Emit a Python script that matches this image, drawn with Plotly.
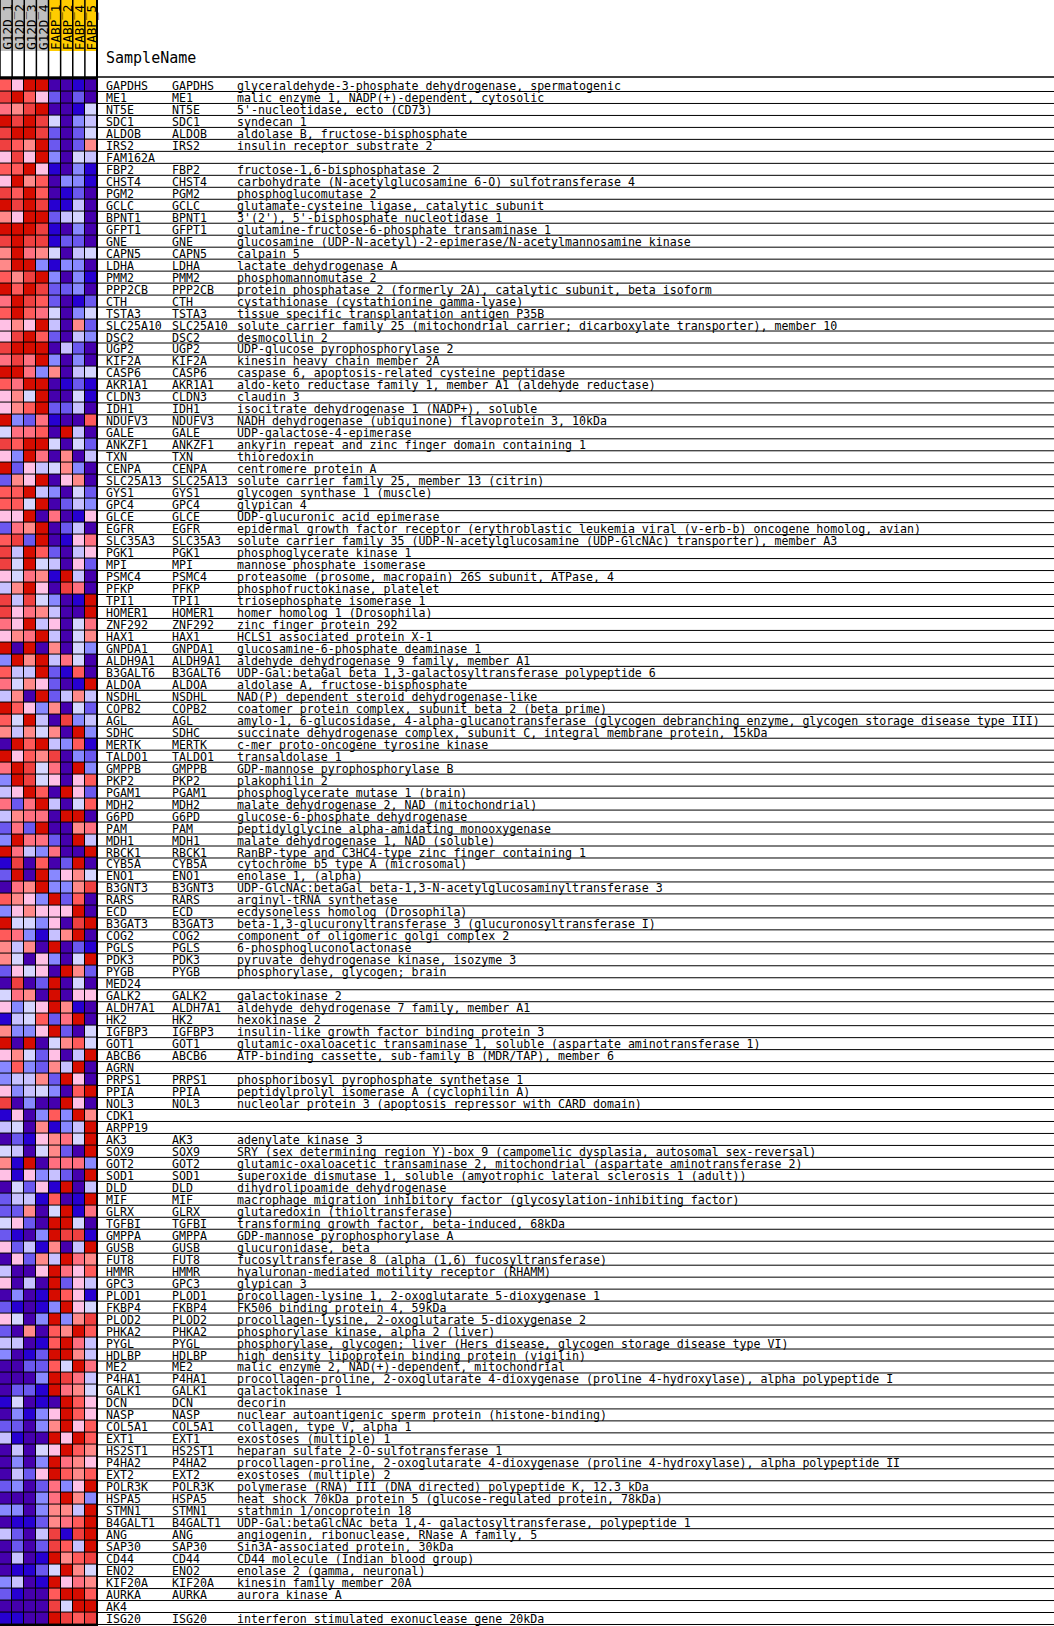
import plotly.graph_objects as go

W, H = 1054, 1626
HEAD = 77          # header height in px
SAMPLE_BOX = 51    # coloured sample-label boxes height in px

samples = ["G12D_1", "G12D_2", "G12D_3", "G12D_4", "FABP_1", "FABP_2", "FABP_4", "FABP_5"]
sample_colors = ["#C0C0C0"] * 4 + ["#FFCC00"] * 4

# GSEA/Broad 12-step colour scheme (low -> high)
palette = ["#4500AD", "#2700D1", "#6B58EF", "#8888FF", "#C7C1FF", "#D5D5FF",
           "#FFC0E5", "#FF8989", "#FF7080", "#FF5A5A", "#EF4040", "#D60C00"]

genes = ["GAPDHS", "ME1", "NT5E", "SDC1", "ALDOB", "IRS2", "FAM162A", "FBP2", "CHST4", "PGM2",
         "GCLC", "BPNT1", "GFPT1", "GNE", "CAPN5", "LDHA", "PMM2", "PPP2CB", "CTH", "TSTA3",
         "SLC25A10", "DSC2", "UGP2", "KIF2A", "CASP6", "AKR1A1", "CLDN3", "IDH1", "NDUFV3", "GALE",
         "ANKZF1", "TXN", "CENPA", "SLC25A13", "GYS1", "GPC4", "GLCE", "EGFR", "SLC35A3", "PGK1",
         "MPI", "PSMC4", "PFKP", "TPI1", "HOMER1", "ZNF292", "HAX1", "GNPDA1", "ALDH9A1", "B3GALT6",
         "ALDOA", "NSDHL", "COPB2", "AGL", "SDHC", "MERTK", "TALDO1", "GMPPB", "PKP2", "PGAM1",
         "MDH2", "G6PD", "PAM", "MDH1", "RBCK1", "CYB5A", "ENO1", "B3GNT3", "RARS", "ECD",
         "B3GAT3", "COG2", "PGLS", "PDK3", "PYGB", "MED24", "GALK2", "ALDH7A1", "HK2", "IGFBP3",
         "GOT1", "ABCB6", "AGRN", "PRPS1", "PPIA", "NOL3", "CDK1", "ARPP19", "AK3", "SOX9",
         "GOT2", "SOD1", "DLD", "MIF", "GLRX", "TGFBI", "GMPPA", "GUSB", "FUT8", "HMMR",
         "GPC3", "PLOD1", "FKBP4", "PLOD2", "PHKA2", "PYGL", "HDLBP", "ME2", "P4HA1", "GALK1",
         "DCN", "NASP", "COL5A1", "EXT1", "HS2ST1", "P4HA2", "EXT2", "POLR3K", "HSPA5", "STMN1",
         "B4GALT1", "ANG", "SAP30", "CD44", "ENO2", "KIF20A", "AURKA", "AK4", "ISG20"]

no_desc = {"FAM162A", "MED24", "AGRN", "CDK1", "ARPP19", "AK4"}
gene_ids = ["" if g in no_desc else g for g in genes]

descriptions = [
    "glyceraldehyde-3-phosphate dehydrogenase, spermatogenic",
    "malic enzyme 1, NADP(+)-dependent, cytosolic",
    "5'-nucleotidase, ecto (CD73)",
    "syndecan 1",
    "aldolase B, fructose-bisphosphate",
    "insulin receptor substrate 2",
    "",
    "fructose-1,6-bisphosphatase 2",
    "carbohydrate (N-acetylglucosamine 6-O) sulfotransferase 4",
    "phosphoglucomutase 2",
    "glutamate-cysteine ligase, catalytic subunit",
    "3'(2'), 5'-bisphosphate nucleotidase 1",
    "glutamine-fructose-6-phosphate transaminase 1",
    "glucosamine (UDP-N-acetyl)-2-epimerase/N-acetylmannosamine kinase",
    "calpain 5",
    "lactate dehydrogenase A",
    "phosphomannomutase 2",
    "protein phosphatase 2 (formerly 2A), catalytic subunit, beta isoform",
    "cystathionase (cystathionine gamma-lyase)",
    "tissue specific transplantation antigen P35B",
    "solute carrier family 25 (mitochondrial carrier; dicarboxylate transporter), member 10",
    "desmocollin 2",
    "UDP-glucose pyrophosphorylase 2",
    "kinesin heavy chain member 2A",
    "caspase 6, apoptosis-related cysteine peptidase",
    "aldo-keto reductase family 1, member A1 (aldehyde reductase)",
    "claudin 3",
    "isocitrate dehydrogenase 1 (NADP+), soluble",
    "NADH dehydrogenase (ubiquinone) flavoprotein 3, 10kDa",
    "UDP-galactose-4-epimerase",
    "ankyrin repeat and zinc finger domain containing 1",
    "thioredoxin",
    "centromere protein A",
    "solute carrier family 25, member 13 (citrin)",
    "glycogen synthase 1 (muscle)",
    "glypican 4",
    "UDP-glucuronic acid epimerase",
    "epidermal growth factor receptor (erythroblastic leukemia viral (v-erb-b) oncogene homolog, avian)",
    "solute carrier family 35 (UDP-N-acetylglucosamine (UDP-GlcNAc) transporter), member A3",
    "phosphoglycerate kinase 1",
    "mannose phosphate isomerase",
    "proteasome (prosome, macropain) 26S subunit, ATPase, 4",
    "phosphofructokinase, platelet",
    "triosephosphate isomerase 1",
    "homer homolog 1 (Drosophila)",
    "zinc finger protein 292",
    "HCLS1 associated protein X-1",
    "glucosamine-6-phosphate deaminase 1",
    "aldehyde dehydrogenase 9 family, member A1",
    "UDP-Gal:betaGal beta 1,3-galactosyltransferase polypeptide 6",
    "aldolase A, fructose-bisphosphate",
    "NAD(P) dependent steroid dehydrogenase-like",
    "coatomer protein complex, subunit beta 2 (beta prime)",
    "amylo-1, 6-glucosidase, 4-alpha-glucanotransferase (glycogen debranching enzyme, glycogen storage disease type III)",
    "succinate dehydrogenase complex, subunit C, integral membrane protein, 15kDa",
    "c-mer proto-oncogene tyrosine kinase",
    "transaldolase 1",
    "GDP-mannose pyrophosphorylase B",
    "plakophilin 2",
    "phosphoglycerate mutase 1 (brain)",
    "malate dehydrogenase 2, NAD (mitochondrial)",
    "glucose-6-phosphate dehydrogenase",
    "peptidylglycine alpha-amidating monooxygenase",
    "malate dehydrogenase 1, NAD (soluble)",
    "RanBP-type and C3HC4-type zinc finger containing 1",
    "cytochrome b5 type A (microsomal)",
    "enolase 1, (alpha)",
    "UDP-GlcNAc:betaGal beta-1,3-N-acetylglucosaminyltransferase 3",
    "arginyl-tRNA synthetase",
    "ecdysoneless homolog (Drosophila)",
    "beta-1,3-glucuronyltransferase 3 (glucuronosyltransferase I)",
    "component of oligomeric golgi complex 2",
    "6-phosphogluconolactonase",
    "pyruvate dehydrogenase kinase, isozyme 3",
    "phosphorylase, glycogen; brain",
    "",
    "galactokinase 2",
    "aldehyde dehydrogenase 7 family, member A1",
    "hexokinase 2",
    "insulin-like growth factor binding protein 3",
    "glutamic-oxaloacetic transaminase 1, soluble (aspartate aminotransferase 1)",
    "ATP-binding cassette, sub-family B (MDR/TAP), member 6",
    "",
    "phosphoribosyl pyrophosphate synthetase 1",
    "peptidylprolyl isomerase A (cyclophilin A)",
    "nucleolar protein 3 (apoptosis repressor with CARD domain)",
    "",
    "",
    "adenylate kinase 3",
    "SRY (sex determining region Y)-box 9 (campomelic dysplasia, autosomal sex-reversal)",
    "glutamic-oxaloacetic transaminase 2, mitochondrial (aspartate aminotransferase 2)",
    "superoxide dismutase 1, soluble (amyotrophic lateral sclerosis 1 (adult))",
    "dihydrolipoamide dehydrogenase",
    "macrophage migration inhibitory factor (glycosylation-inhibiting factor)",
    "glutaredoxin (thioltransferase)",
    "transforming growth factor, beta-induced, 68kDa",
    "GDP-mannose pyrophosphorylase A",
    "glucuronidase, beta",
    "fucosyltransferase 8 (alpha (1,6) fucosyltransferase)",
    "hyaluronan-mediated motility receptor (RHAMM)",
    "glypican 3",
    "procollagen-lysine 1, 2-oxoglutarate 5-dioxygenase 1",
    "FK506 binding protein 4, 59kDa",
    "procollagen-lysine, 2-oxoglutarate 5-dioxygenase 2",
    "phosphorylase kinase, alpha 2 (liver)",
    "phosphorylase, glycogen; liver (Hers disease, glycogen storage disease type VI)",
    "high density lipoprotein binding protein (vigilin)",
    "malic enzyme 2, NAD(+)-dependent, mitochondrial",
    "procollagen-proline, 2-oxoglutarate 4-dioxygenase (proline 4-hydroxylase), alpha polypeptide I",
    "galactokinase 1",
    "decorin",
    "nuclear autoantigenic sperm protein (histone-binding)",
    "collagen, type V, alpha 1",
    "exostoses (multiple) 1",
    "heparan sulfate 2-O-sulfotransferase 1",
    "procollagen-proline, 2-oxoglutarate 4-dioxygenase (proline 4-hydroxylase), alpha polypeptide II",
    "exostoses (multiple) 2",
    "polymerase (RNA) III (DNA directed) polypeptide K, 12.3 kDa",
    "heat shock 70kDa protein 5 (glucose-regulated protein, 78kDa)",
    "stathmin 1/oncoprotein 18",
    "UDP-Gal:betaGlcNAc beta 1,4- galactosyltransferase, polypeptide 1",
    "angiogenin, ribonuclease, RNase A family, 5",
    "Sin3A-associated protein, 30kDa",
    "CD44 molecule (Indian blood group)",
    "enolase 2 (gamma, neuronal)",
    "kinesin family member 20A",
    "aurora kinase A",
    "",
    "interferon stimulated exonuclease gene 20kDa",
]

# expression level per gene (row) and sample (column), 0 = lowest ... 11 = highest
levels = [
    [9, 6, 11, 11, 0, 0, 1, 0], [10, 11, 9, 6, 2, 0, 2, 0], [8, 7, 10, 11, 0, 0, 1, 5],
    [11, 10, 11, 10, 5, 0, 3, 4], [10, 11, 11, 10, 2, 0, 2, 5], [10, 9, 7, 11, 2, 0, 2, 7],
    [6, 10, 6, 11, 3, 0, 5, 4], [9, 9, 11, 6, 1, 0, 3, 1], [6, 11, 7, 9, 0, 3, 3, 1],
    [10, 9, 11, 9, 0, 1, 2, 0], [11, 10, 11, 10, 1, 1, 4, 0], [7, 6, 11, 11, 2, 4, 5, 0],
    [11, 11, 11, 10, 1, 0, 3, 0], [10, 11, 10, 10, 1, 2, 2, 0], [7, 11, 8, 7, 5, 0, 4, 5],
    [7, 11, 11, 3, 1, 3, 3, 0], [9, 7, 10, 11, 3, 0, 3, 1], [11, 9, 11, 10, 2, 2, 3, 0],
    [8, 11, 10, 9, 2, 0, 1, 2], [9, 11, 9, 8, 5, 0, 3, 5], [6, 7, 6, 11, 4, 0, 7, 2],
    [6, 10, 11, 9, 2, 0, 4, 3], [10, 11, 11, 11, 0, 4, 2, 0], [8, 10, 8, 11, 3, 0, 3, 0],
    [11, 11, 8, 3, 7, 0, 4, 5], [9, 8, 11, 11, 0, 1, 2, 1], [6, 7, 5, 11, 0, 0, 5, 1],
    [6, 7, 9, 11, 2, 2, 4, 0], [11, 3, 2, 8, 1, 0, 0, 9], [5, 8, 8, 9, 0, 11, 4, 0],
    [10, 9, 11, 11, 5, 0, 5, 2], [6, 3, 11, 8, 0, 7, 0, 4], [11, 2, 6, 4, 5, 7, 3, 0],
    [2, 7, 6, 11, 0, 6, 7, 0], [9, 9, 11, 4, 3, 0, 5, 2], [9, 9, 5, 11, 0, 2, 4, 3],
    [6, 6, 11, 0, 8, 0, 1, 6], [2, 8, 7, 11, 0, 2, 4, 0], [9, 10, 2, 11, 0, 1, 6, 8],
    [10, 4, 11, 9, 2, 0, 4, 6], [10, 5, 11, 5, 4, 0, 6, 2], [6, 5, 8, 7, 1, 11, 4, 0],
    [4, 7, 11, 6, 0, 10, 8, 0], [10, 4, 10, 5, 3, 0, 1, 11], [10, 6, 8, 7, 4, 0, 0, 11],
    [8, 6, 11, 4, 6, 0, 5, 8], [6, 7, 8, 11, 4, 0, 5, 7], [11, 0, 11, 0, 7, 0, 5, 3],
    [3, 11, 7, 11, 4, 8, 5, 0], [9, 4, 4, 11, 2, 1, 9, 0], [8, 5, 7, 6, 2, 0, 1, 11],
    [4, 7, 0, 11, 2, 4, 7, 4], [11, 9, 6, 3, 7, 0, 5, 2], [9, 5, 11, 4, 0, 10, 3, 4],
    [7, 4, 7, 5, 7, 0, 11, 3], [0, 11, 9, 11, 4, 3, 9, 1], [11, 6, 9, 7, 10, 0, 3, 2],
    [8, 11, 10, 5, 8, 0, 11, 3], [3, 11, 10, 5, 6, 0, 6, 9], [4, 6, 11, 9, 0, 11, 6, 2],
    [8, 2, 8, 11, 4, 0, 5, 9], [4, 7, 8, 8, 0, 11, 11, 0], [2, 8, 2, 11, 0, 0, 7, 8],
    [3, 11, 8, 8, 2, 0, 11, 4], [11, 8, 4, 3, 8, 0, 0, 11], [1, 10, 0, 9, 0, 2, 11, 0],
    [2, 11, 0, 11, 3, 6, 7, 5], [0, 8, 7, 11, 3, 3, 7, 10], [9, 7, 6, 3, 11, 2, 9, 0],
    [3, 6, 7, 6, 6, 6, 11, 0], [11, 5, 5, 3, 6, 0, 10, 11], [9, 8, 3, 1, 4, 7, 11, 0],
    [7, 4, 7, 0, 11, 0, 2, 1], [7, 5, 0, 6, 3, 0, 5, 11], [2, 6, 5, 6, 0, 11, 7, 2],
    [0, 10, 0, 2, 11, 0, 5, 0], [5, 8, 7, 0, 11, 0, 6, 6], [6, 3, 5, 6, 11, 7, 1, 0],
    [1, 4, 5, 9, 2, 8, 11, 0], [7, 3, 3, 6, 11, 2, 0, 5], [11, 0, 11, 0, 5, 7, 9, 5],
    [6, 7, 5, 2, 6, 0, 4, 11], [3, 9, 3, 2, 7, 4, 11, 0], [3, 4, 4, 7, 2, 11, 6, 0],
    [6, 3, 4, 5, 3, 0, 9, 11], [10, 0, 3, 0, 0, 11, 6, 0], [1, 6, 0, 3, 9, 3, 11, 7],
    [4, 5, 0, 7, 1, 3, 4, 11], [0, 2, 1, 6, 7, 8, 5, 11], [5, 4, 0, 5, 7, 2, 0, 11],
    [7, 1, 11, 0, 8, 8, 8, 3], [6, 1, 6, 3, 4, 2, 0, 11], [0, 5, 2, 6, 1, 11, 0, 4],
    [2, 4, 4, 1, 9, 0, 1, 11], [2, 2, 7, 0, 5, 11, 1, 8], [5, 6, 2, 0, 11, 11, 5, 0],
    [2, 1, 0, 3, 11, 10, 10, 1], [6, 2, 4, 1, 7, 0, 4, 11], [0, 6, 2, 7, 4, 11, 8, 7],
    [4, 0, 0, 6, 11, 8, 6, 9], [6, 0, 4, 0, 11, 2, 6, 4], [0, 3, 0, 1, 11, 9, 6, 1],
    [2, 1, 0, 1, 3, 11, 6, 5], [6, 5, 0, 3, 11, 3, 7, 10], [2, 0, 7, 0, 9, 7, 11, 9],
    [4, 4, 0, 1, 9, 11, 8, 4], [3, 0, 1, 2, 11, 11, 7, 4], [0, 0, 2, 2, 9, 5, 11, 8],
    [0, 0, 0, 3, 11, 10, 8, 4], [0, 2, 2, 1, 11, 8, 7, 5], [1, 5, 0, 1, 0, 11, 9, 6],
    [0, 3, 1, 3, 6, 11, 9, 6], [2, 2, 0, 3, 7, 11, 6, 9], [4, 1, 0, 0, 11, 6, 11, 9],
    [0, 4, 0, 5, 6, 11, 9, 7], [0, 3, 0, 3, 11, 8, 7, 6], [0, 4, 2, 6, 11, 9, 7, 9],
    [2, 3, 0, 2, 8, 3, 6, 11], [0, 0, 0, 3, 8, 11, 7, 3], [3, 3, 0, 3, 7, 7, 4, 11],
    [0, 1, 1, 2, 7, 8, 9, 11], [4, 2, 0, 4, 10, 1, 10, 11], [0, 2, 0, 2, 10, 9, 4, 11],
    [0, 4, 0, 1, 11, 7, 9, 10], [0, 1, 1, 2, 5, 11, 7, 5], [3, 4, 0, 1, 11, 6, 8, 7],
    [2, 1, 0, 0, 9, 11, 11, 9], [0, 0, 0, 0, 10, 5, 11, 11], [1, 1, 0, 0, 11, 10, 9, 10],
]

n_rows = len(genes)
n_cols = len(samples)
HM_RIGHT = 97 / W           # paper x of heatmap right edge
Y_TOP = 1 - HEAD / H        # paper y of heatmap top

colorscale = []
for i, c in enumerate(palette):
    colorscale.append([i / len(palette), c])
    colorscale.append([(i + 1) / len(palette), c])

fig = go.Figure()
fig.add_trace(go.Heatmap(
    z=levels, x=samples, y=genes,
    colorscale=colorscale, zmin=-0.5, zmax=len(palette) - 0.5,
    showscale=False, xgap=1, ygap=1, hoverinfo="x+y+z",
))

shapes = []
annotations = []

def px_y(p):
    return 1 - p / H

# sample header boxes + rotated labels
for i, (s, c) in enumerate(zip(samples, sample_colors)):
    shapes.append(dict(type="rect", xref="x", yref="paper", x0=i - 0.5, x1=i + 0.5,
                       y0=px_y(SAMPLE_BOX), y1=1, fillcolor=c, line=dict(width=0), layer="below"))
    annotations.append(dict(text=s, xref="x", yref="paper", x=i, y=px_y(SAMPLE_BOX),
                            xanchor="center", yanchor="bottom", textangle=-90, showarrow=False,
                            borderpad=0, xshift=0.5,
                            font=dict(family="DejaVu Sans Mono", size=12.6, color="black")))

# header vertical separators
for i in range(n_cols + 1):
    shapes.append(dict(type="line", xref="x", yref="paper", x0=i - 0.5, x1=i - 0.5,
                       y0=Y_TOP, y1=1, line=dict(color="black", width=1.5)))
# right border of heatmap all the way down
shapes.append(dict(type="line", xref="paper", yref="paper", x0=HM_RIGHT, x1=HM_RIGHT,
                   y0=0, y1=1, line=dict(color="black", width=2)))
# top border line of table
shapes.append(dict(type="line", xref="paper", yref="paper", x0=0, x1=1, y0=Y_TOP, y1=Y_TOP,
                   line=dict(color="black", width=1.5)))
# row separator lines in the text table
for j in range(n_rows):
    shapes.append(dict(type="line", xref="paper", yref="y", x0=HM_RIGHT, x1=1,
                       y0=j + 0.5, y1=j + 0.5, line=dict(color="black", width=1)))

annotations.append(dict(text="SampleName", xref="paper", yref="paper", x=105 / W, y=px_y(58),
                        xanchor="left", yanchor="middle", showarrow=False, borderpad=0,
                        font=dict(family="DejaVu Sans Mono", size=15, color="black")))

FONT = dict(family="DejaVu Sans Mono", size=11.6, color="black")
for j, (g, gid, d) in enumerate(zip(genes, gene_ids, descriptions)):
    for xpx, txt in ((105, g), (171, gid), (236, d)):
        if not txt:
            continue
        annotations.append(dict(text=txt, xref="paper", yref="y", x=xpx / W, y=j,
                                xanchor="left", yanchor="middle", showarrow=False,
                                borderpad=0, yshift=-0.5, font=FONT))

fig.update_layout(
    width=W, height=H, margin=dict(l=0, r=0, t=0, b=0),
    paper_bgcolor="white", plot_bgcolor="black",
    xaxis=dict(domain=[0, HM_RIGHT], showticklabels=False, showgrid=False, zeroline=False,
               ticks="", fixedrange=True, range=[-0.5, n_cols - 0.5]),
    yaxis=dict(domain=[0, Y_TOP], showticklabels=False, showgrid=False, zeroline=False,
               ticks="", fixedrange=True, autorange="reversed"),
    shapes=shapes, annotations=annotations, showlegend=False,
)

fig.write_html("out.html")
